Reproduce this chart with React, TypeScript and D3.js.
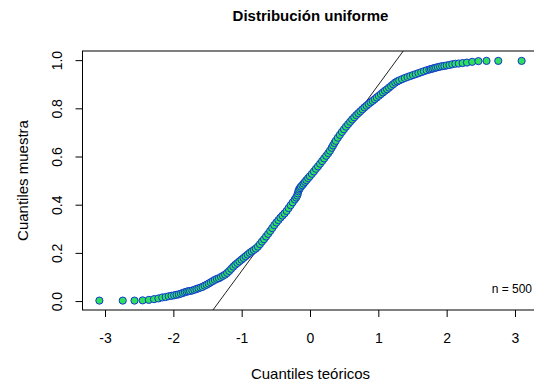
import React from "react";
import * as d3 from "d3";

// Normal Q-Q plot of a uniform sample (n = 500)
const teoricos = [
  -3.09, -2.748, -2.576, -2.457, -2.366, -2.29, -2.226, -2.17, -2.12, -2.075,
  -2.034, -1.995, -1.96, -1.927, -1.896, -1.866, -1.838, -1.812, -1.787, -1.762,
  -1.73, -1.7, -1.67, -1.64, -1.61, -1.58, -1.55, -1.52, -1.49, -1.46,
  -1.43, -1.4, -1.37, -1.34, -1.31, -1.28, -1.25, -1.22, -1.19, -1.16,
  -1.13, -1.1, -1.07, -1.04, -1.01, -0.98, -0.95, -0.92, -0.89, -0.86,
  -0.83, -0.8, -0.77, -0.74, -0.71, -0.68, -0.65, -0.62, -0.59, -0.56,
  -0.53, -0.5, -0.47, -0.44, -0.41, -0.38, -0.35, -0.32, -0.29, -0.26,
  -0.23, -0.21, -0.195, -0.185, -0.177, -0.168, -0.155, -0.14, -0.12, -0.1,
  -0.08, -0.06, -0.035, -0.01, 0.02, 0.05, 0.08, 0.11, 0.14, 0.17,
  0.2, 0.23, 0.26, 0.285, 0.31, 0.33, 0.35, 0.37, 0.4, 0.43,
  0.46, 0.49, 0.52, 0.55, 0.58, 0.61, 0.64, 0.67, 0.7, 0.73,
  0.76, 0.79, 0.82, 0.85, 0.88, 0.91, 0.94, 0.97, 1.0, 1.03,
  1.06, 1.09, 1.12, 1.15, 1.18, 1.21, 1.24, 1.27, 1.3, 1.34,
  1.38, 1.42, 1.46, 1.5, 1.54, 1.58, 1.62, 1.66, 1.7, 1.74,
  1.762, 1.787, 1.812, 1.838, 1.866, 1.896, 1.927, 1.96, 1.995, 2.034,
  2.075, 2.12, 2.17, 2.226, 2.29, 2.366, 2.457, 2.576, 2.748, 3.09,
];

const muestra = [
  0.004, 0.004, 0.004, 0.005, 0.007, 0.01, 0.013, 0.017, 0.019, 0.022,
  0.024, 0.026, 0.028, 0.03, 0.033, 0.036, 0.039, 0.041, 0.043, 0.044,
  0.046, 0.049, 0.052, 0.055, 0.058, 0.061, 0.066, 0.07, 0.075, 0.08,
  0.085, 0.09, 0.094, 0.097, 0.102, 0.107, 0.112, 0.119, 0.127, 0.136,
  0.145, 0.153, 0.16, 0.167, 0.174, 0.181, 0.188, 0.195, 0.202, 0.208,
  0.214, 0.22, 0.228, 0.238, 0.249, 0.259, 0.27, 0.281, 0.293, 0.305,
  0.317, 0.328, 0.338, 0.348, 0.357, 0.366, 0.376, 0.388, 0.4, 0.412,
  0.424, 0.432, 0.44, 0.449, 0.458, 0.465, 0.471, 0.477, 0.483, 0.49,
  0.497, 0.504, 0.512, 0.52, 0.53, 0.54, 0.551, 0.561, 0.572, 0.583,
  0.594, 0.605, 0.616, 0.626, 0.638, 0.648, 0.658, 0.667, 0.68, 0.692,
  0.704, 0.715, 0.726, 0.736, 0.746, 0.756, 0.765, 0.774, 0.782, 0.79,
  0.798, 0.806, 0.813, 0.82, 0.827, 0.833, 0.84, 0.847, 0.854, 0.861,
  0.868, 0.875, 0.881, 0.888, 0.895, 0.902, 0.909, 0.914, 0.918, 0.923,
  0.928, 0.932, 0.936, 0.94, 0.944, 0.948, 0.952, 0.956, 0.96, 0.963,
  0.965, 0.967, 0.969, 0.971, 0.973, 0.975, 0.977, 0.978, 0.98, 0.982,
  0.985, 0.987, 0.988, 0.99, 0.992, 0.995, 0.998, 0.999, 0.999, 0.999,
];

// Reference line through the quartiles
const lineaIntercepto = 0.516;
const lineaPendiente = 0.386;

const xTicks = [-3, -2, -1, 0, 1, 2, 3];
const yTicks = [0, 0.2, 0.4, 0.6, 0.8, 1.0];

const titulo = "Distribución uniforme";
const etiquetaX = "Cuantiles teóricos";
const etiquetaY = "Cuantiles muestra";
const nTexto = "n = 500";

const W = 534;
const H = 386;
const box = { left: 82.5, right: 538.5, top: 51, bottom: 310 };
const FONT = "'Liberation Sans', Arial, Helvetica, sans-serif";

export default function App() {
  const x = d3.scaleLinear().domain([-3.337, 3.337]).range([box.left, box.right]);
  const y = d3.scaleLinear().domain([-0.035, 1.04]).range([box.bottom, box.top]);

  const puntos = teoricos.map((t, i) => ({ t, m: muestra[i] }));
  const [x0, x1] = x.domain();
  const linea = d3.line<number>()
    .x((t) => x(t))
    .y((t) => y(lineaIntercepto + lineaPendiente * t))([x0, x1]);

  const cx = (box.left + box.right) / 2;
  const cy = (box.top + box.bottom) / 2;

  return (
    <svg
      width={W}
      height={H}
      style={{ position: "absolute", left: 0, top: 0, background: "#fff" }}
      fontFamily={FONT}
    >
      <defs>
        <clipPath id="area">
          <rect x={box.left} y={box.top} width={box.right - box.left} height={box.bottom - box.top} />
        </clipPath>
      </defs>

      <text x={cx} y={21} textAnchor="middle" fontWeight="bold" fontSize={15} fill="#000">
        {titulo}
      </text>

      <path d={linea ?? ""} stroke="#222" strokeWidth={1} fill="none" clipPath="url(#area)" />

      <g clipPath="url(#area)">
        {puntos.map((p, i) => (
          <circle
            key={i}
            cx={x(p.t)}
            cy={y(p.m)}
            r={3.6}
            fill="#2ee05a"
            stroke="#1533d8"
            strokeWidth={1}
          />
        ))}
      </g>

      <rect
        x={box.left}
        y={box.top}
        width={box.right - box.left}
        height={box.bottom - box.top}
        fill="none"
        stroke="#000"
        strokeWidth={1}
      />

      {/* x axis */}
      {xTicks.map((t) => (
        <g key={t}>
          <line x1={x(t)} x2={x(t)} y1={box.bottom} y2={box.bottom + 7} stroke="#000" />
          <text x={x(t)} y={343} textAnchor="middle" fontSize={14} fill="#000">
            {t}
          </text>
        </g>
      ))}

      {/* y axis */}
      {yTicks.map((t) => (
        <g key={t}>
          <line x1={box.left - 7} x2={box.left} y1={y(t)} y2={y(t)} stroke="#000" />
          <text
            transform={`translate(62,${y(t)}) rotate(-90)`}
            textAnchor="middle"
            fontSize={14}
            fill="#000"
          >
            {t.toFixed(1)}
          </text>
        </g>
      ))}

      <text x={cx} y={379} textAnchor="middle" fontSize={15} fill="#000">
        {etiquetaX}
      </text>
      <text transform={`translate(28,${cy}) rotate(-90)`} textAnchor="middle" fontSize={15} fill="#000">
        {etiquetaY}
      </text>

      <text x={532} y={293} textAnchor="end" fontSize={12} fill="#000">
        {nTexto}
      </text>
    </svg>
  );
}
